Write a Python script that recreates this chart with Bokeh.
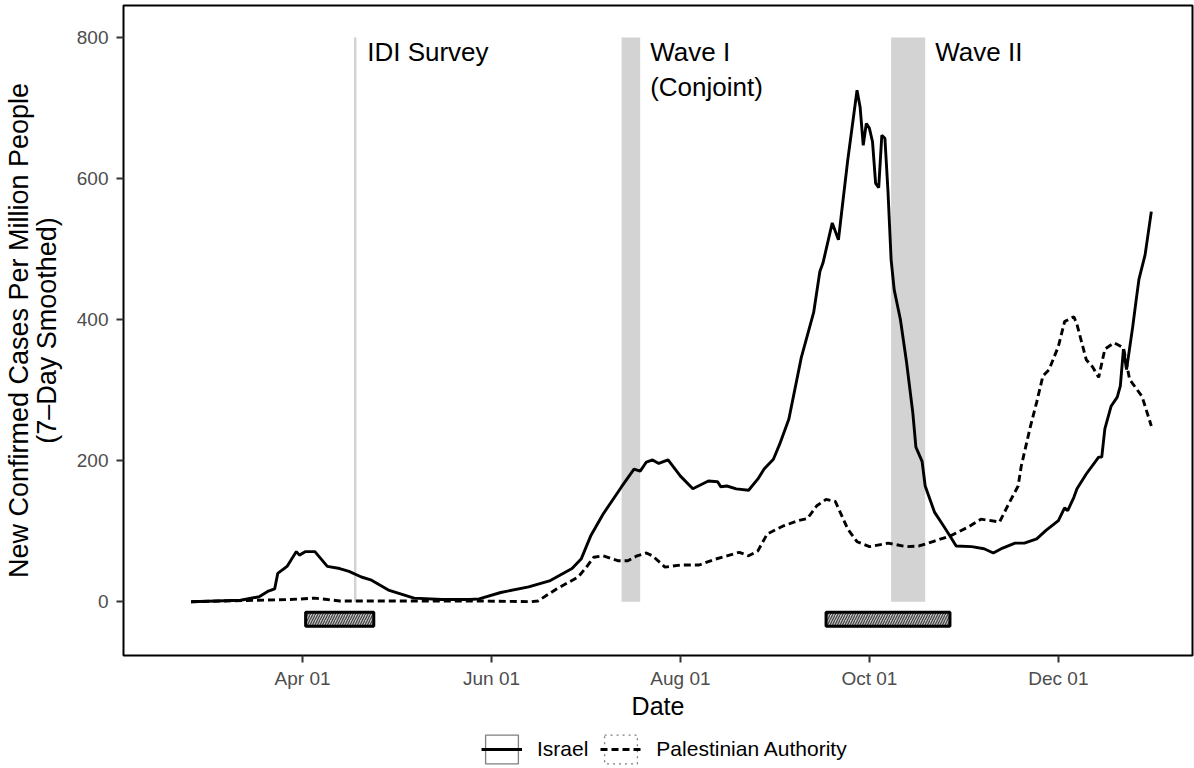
from datetime import datetime
import pandas as pd
from bokeh.plotting import figure
from bokeh.layouts import column
from bokeh.models import (Range1d, FixedTicker, DatetimeTickFormatter, Legend,
                          LegendItem)
from bokeh.core.properties import value
from bokeh.embed import file_html
from bokeh.resources import INLINE

# ---------------- data ----------------
israel_dates = [
    "2020-02-25", "2020-03-12", "2020-03-18", "2020-03-21", "2020-03-23", "2020-03-24",
    "2020-03-27", "2020-03-30", "2020-03-31", "2020-04-02", "2020-04-05", "2020-04-09",
    "2020-04-13", "2020-04-16", "2020-04-20", "2020-04-23", "2020-04-29", "2020-05-07",
    "2020-05-16", "2020-05-25", "2020-05-28", "2020-06-04", "2020-06-13", "2020-06-20",
    "2020-06-27", "2020-06-30", "2020-07-03", "2020-07-07", "2020-07-13", "2020-07-17",
    "2020-07-19", "2020-07-21", "2020-07-23", "2020-07-25", "2020-07-28", "2020-08-01",
    "2020-08-05", "2020-08-10", "2020-08-13", "2020-08-14", "2020-08-16", "2020-08-19",
    "2020-08-23", "2020-08-26", "2020-08-28", "2020-08-31", "2020-09-02", "2020-09-05",
    "2020-09-09", "2020-09-13", "2020-09-15", "2020-09-16", "2020-09-19", "2020-09-21",
    "2020-09-22", "2020-09-24", "2020-09-26", "2020-09-27", "2020-09-28", "2020-09-29",
    "2020-09-30", "2020-10-01", "2020-10-02", "2020-10-03", "2020-10-04", "2020-10-05",
    "2020-10-06", "2020-10-07", "2020-10-08", "2020-10-09", "2020-10-11", "2020-10-13",
    "2020-10-15", "2020-10-16", "2020-10-18", "2020-10-19", "2020-10-22", "2020-10-25",
    "2020-10-27", "2020-10-29", "2020-11-03", "2020-11-07", "2020-11-10", "2020-11-13",
    "2020-11-17", "2020-11-20", "2020-11-24", "2020-11-27", "2020-12-01", "2020-12-03",
    "2020-12-04", "2020-12-06", "2020-12-07", "2020-12-10", "2020-12-14", "2020-12-15",
    "2020-12-16", "2020-12-18", "2020-12-20", "2020-12-21", "2020-12-22", "2020-12-23",
    "2020-12-25", "2020-12-26", "2020-12-27", "2020-12-29", "2020-12-31",
]
israel_cases = [
    0, 2, 7, 15, 18, 40,
    50, 71, 66, 71, 71, 50,
    47, 43, 35, 31, 16, 5,
    3, 3, 4, 13, 21, 30,
    47, 61, 93, 124, 163, 188,
    185, 198, 201, 196, 201, 178,
    160, 171, 170, 163, 164, 160,
    158, 174, 188, 202, 223, 259,
    346, 410, 468, 480, 537, 513,
    551, 626, 692, 725, 701, 647,
    678, 671, 652, 593, 587, 661,
    657, 581, 485, 442, 400, 339,
    268, 219, 199, 164, 127, 107,
    93, 79, 78, 75, 69, 76,
    83, 83, 89, 101, 115, 133,
    129, 148, 160, 181, 205, 205,
    245, 277, 290, 306, 358, 329,
    390, 424, 457, 492, 553,
]

pa_dates = [
    "2020-02-25", "2020-03-17", "2020-03-28", "2020-04-05", "2020-04-09", "2020-04-13",
    "2020-05-28", "2020-06-14", "2020-06-16", "2020-06-22", "2020-06-29", "2020-07-02",
    "2020-07-04", "2020-07-07", "2020-07-12", "2020-07-15", "2020-07-18", "2020-07-21",
    "2020-07-23", "2020-07-27", "2020-08-01", "2020-08-07", "2020-08-12", "2020-08-16",
    "2020-08-20", "2020-08-23", "2020-08-26", "2020-08-29", "2020-09-03", "2020-09-08",
    "2020-09-11", "2020-09-14", "2020-09-17", "2020-09-20", "2020-09-24", "2020-09-27",
    "2020-10-01", "2020-10-07", "2020-10-13", "2020-10-17", "2020-10-22", "2020-10-27",
    "2020-11-02", "2020-11-06", "2020-11-12", "2020-11-15", "2020-11-18", "2020-11-19",
    "2020-11-22", "2020-11-24", "2020-11-26", "2020-11-28", "2020-12-01", "2020-12-03",
    "2020-12-06", "2020-12-07", "2020-12-10", "2020-12-12", "2020-12-14", "2020-12-16",
    "2020-12-19", "2020-12-22", "2020-12-24", "2020-12-28", "2020-12-31",
]
pa_cases = [
    0, 2, 3, 5, 3, 1,
    1, 0, 1, 18, 35, 51,
    63, 65, 58, 58, 65, 69,
    65, 49, 52, 52, 60, 65,
    70, 65, 72, 96, 107, 115,
    118, 136, 145, 142, 103, 85,
    78, 83, 78, 79, 86, 93,
    106, 117, 113, 139, 164, 192,
    249, 283, 320, 329, 362, 397,
    404, 393, 343, 333, 318, 358,
    367, 360, 315, 291, 249,
]

series_names = ["Israel", "Palestinian Authority"]

survey_label = "IDI Survey"
survey_date = "2020-04-18"

wave_labels = ["Wave I\n(Conjoint)", "Wave II"]
wave_start = ["2020-07-13", "2020-10-08"]
wave_end = ["2020-07-19", "2020-10-19"]

field_start = ["2020-04-02", "2020-09-17"]
field_end = ["2020-04-24", "2020-10-27"]

y_ticks = [0, 200, 400, 600, 800]
x_tick_dates = ["2020-04-01", "2020-06-01", "2020-08-01", "2020-10-01", "2020-12-01"]

# ---------------- styling constants ----------------
FONT = "Liberation Sans"
band_bottom, band_top = 0, 800
field_bottom, field_top = -35, -15
SOLID_W = 2.9
DASH = "7 4"
LEFT, RIGHT = 123, 2


def to_dt(s):
    return pd.to_datetime(s)


p = figure(
    width=1194, height=722,
    x_axis_type="datetime",
    x_range=Range1d(datetime(2020, 2, 3, 5), datetime(2021, 1, 13, 7)),
    y_range=Range1d(-76.3, 845.2),
    output_backend="svg", toolbar_location=None,
    min_border_left=LEFT, min_border_right=RIGHT, min_border_top=5, min_border_bottom=65,
    background_fill_color="white", border_fill_color="white",
)
p.grid.visible = False
p.outline_line_color = "black"
p.outline_line_width = 2

# shaded wave bands
p.quad(left=to_dt(wave_start), right=to_dt(wave_end),
       bottom=[band_bottom] * len(wave_start), top=[band_top] * len(wave_start),
       fill_color="#d3d3d3", line_color=None)

# IDI survey line
p.segment(x0=[to_dt(survey_date)], x1=[to_dt(survey_date)], y0=[band_bottom], y1=[band_top],
          line_color="#d3d3d3", line_width=2.5)

# fieldwork periods (hatched)
p.quad(left=to_dt(field_start), right=to_dt(field_end),
       bottom=[field_bottom] * len(field_start), top=[field_top] * len(field_start),
       fill_color="#c4c4c4", hatch_pattern="/", hatch_color="#404040",
       hatch_scale=5, hatch_weight=1.2, line_color="black", line_width=3)

# series
p.line(to_dt(israel_dates), israel_cases, line_color="black", line_width=SOLID_W)
p.line(to_dt(pa_dates), pa_cases, line_color="black", line_width=SOLID_W, line_dash=DASH)

# annotations
p.text(x=[to_dt(survey_date)], y=[band_top], text=[survey_label], x_offset=12,
       text_baseline="top", text_align="left", text_font=value(FONT),
       text_font_size="26px", text_color="black")
p.text(x=to_dt(wave_end), y=[band_top] * len(wave_end), text=wave_labels, x_offset=10,
       text_baseline="top", text_align="left", text_font=value(FONT),
       text_font_size="26px", text_color="black", text_line_height=1.15)

# axes
p.xaxis.ticker = FixedTicker(ticks=[to_dt(d).value / 1e6 for d in x_tick_dates])
p.xaxis.formatter = DatetimeTickFormatter(days="%b %d", months="%b %d", years="%b %d")
p.yaxis.ticker = FixedTicker(ticks=y_ticks)
p.xaxis.axis_label = "Date"
p.yaxis.axis_label = "New Confirmed Cases Per Million People\n(7\u2013Day Smoothed)"

for ax in (p.xaxis, p.yaxis):
    ax.axis_line_color = None
    ax.major_tick_line_color = "#333333"
    ax.major_tick_line_width = 2
    ax.major_tick_out = 7
    ax.major_tick_in = 0
    ax.minor_tick_line_color = None
    ax.major_label_text_font = FONT
    ax.major_label_text_font_size = "19px"
    ax.major_label_text_color = "#4d4d4d"
    ax.axis_label_text_font = FONT
    ax.axis_label_text_font_style = "normal"
    ax.axis_label_text_color = "black"

p.xaxis.major_label_standoff = 5
p.xaxis.axis_label_standoff = 0
p.xaxis.axis_label_text_font_size = "25px"
p.yaxis.major_label_standoff = 8
p.yaxis.axis_label_standoff = 12
p.yaxis.axis_label_text_font_size = "27px"
p.yaxis.axis_label_text_line_height = 0.92

# ---------------- legend strip below the plot ----------------
leg = figure(
    width=1194, height=46, x_range=Range1d(0, 1), y_range=Range1d(0, 1),
    x_axis_location=None, y_axis_location=None,
    output_backend="svg", toolbar_location=None,
    min_border_left=LEFT, min_border_right=RIGHT, min_border_top=0, min_border_bottom=0,
    background_fill_color="white", border_fill_color="white",
)
leg.grid.visible = False
leg.outline_line_color = None

# key renderers (their data lies outside this strip's ranges, so only the legend shows)
key_box_il = leg.quad(left=to_dt(field_start[:1]), right=to_dt(field_end[:1]),
                      bottom=[field_bottom], top=[field_top],
                      fill_color="white", line_color="#7f7f7f", line_width=1.3)
key_line_il = leg.line(to_dt(israel_dates), israel_cases, line_color="black",
                       line_width=SOLID_W)
key_box_pa = leg.quad(left=to_dt(field_start[:1]), right=to_dt(field_end[:1]),
                      bottom=[field_bottom], top=[field_top],
                      fill_color="white", line_color="#7f7f7f", line_width=1.3,
                      line_dash="dotted")
key_line_pa = leg.line(to_dt(pa_dates), pa_cases, line_color="black",
                       line_width=SOLID_W, line_dash=DASH)

legend = Legend(
    items=[LegendItem(label=series_names[0], renderers=[key_box_il, key_line_il]),
           LegendItem(label=series_names[1], renderers=[key_box_pa, key_line_pa])],
    orientation="horizontal", location=(358, 1),
    glyph_width=41, glyph_height=36, label_standoff=15, spacing=12,
    label_text_font=FONT, label_text_font_size="21px", label_text_color="black",
    border_line_color=None, background_fill_alpha=0, margin=0, padding=1,
)
leg.add_layout(legend, "center")

layout = column(p, leg, spacing=0)
open("out.html", "w").write(file_html(layout, INLINE))
